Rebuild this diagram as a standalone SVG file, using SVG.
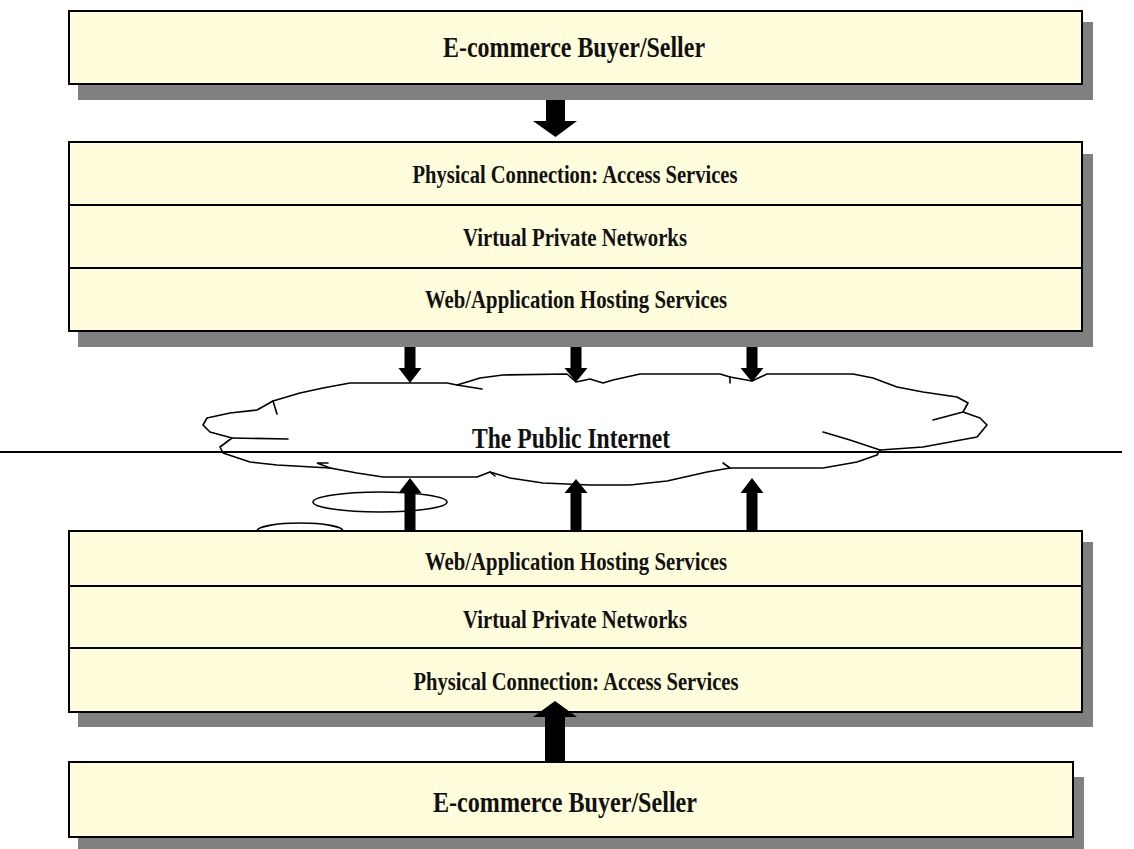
<svg xmlns="http://www.w3.org/2000/svg" width="1134" height="849" viewBox="0 0 1134 849">
<style>
.shadow{fill:#808080;}
.box{fill:#FFFDDC;stroke:#000;stroke-width:2;}
.div{stroke:#000;stroke-width:2;fill:none;}
.lbl{font-family:"Liberation Serif","Times New Roman",serif;font-weight:bold;fill:#111;text-anchor:middle;}
.big{font-size:29px;}
.row{font-size:26px;}
.arrow{fill:#000;}
.cloud{fill:#fff;stroke:#000;stroke-width:1.6;stroke-linejoin:round;stroke-linecap:round;}
.thin{fill:none;stroke:#000;stroke-width:1.6;stroke-linecap:round;}
</style>
<rect width="1134" height="849" fill="#fff"/>

<g id="top-party">
<rect class="shadow" x="78" y="22" width="1015" height="78"/>
<rect class="box" x="69" y="11" width="1013" height="73"/>
<text class="lbl big" x="574" y="57" textLength="262" lengthAdjust="spacingAndGlyphs">E-commerce Buyer/Seller</text>
</g>

<g id="top-services">
<rect class="shadow" x="78" y="154" width="1015" height="193"/>
<rect class="box" x="69" y="142" width="1013" height="189"/>
<line class="div" x1="69" y1="205" x2="1082" y2="205"/>
<line class="div" x1="69" y1="268" x2="1082" y2="268"/>
<text class="lbl row" x="575" y="183" textLength="325" lengthAdjust="spacingAndGlyphs">Physical Connection: Access Services</text>
<text class="lbl row" x="575" y="246" textLength="224" lengthAdjust="spacingAndGlyphs">Virtual Private Networks</text>
<text class="lbl row" x="576" y="308" textLength="302" lengthAdjust="spacingAndGlyphs">Web/Application Hosting Services</text>
</g>

<g id="internet">
<path class="cloud" d="M230,413 L257,410 L273,401 L300,393 L323,388 L350,383 L447,383 L457,385 L467,382 L480,378 L503,375 L567,374 L576,382 L590,379 L603,383 L613,380 L640,374 L720,374 L730,377 L752,381 L767,374 L853,374 L873,378 L897,387 L923,392 L957,397 L968,403 L963,412 L980,418 L987,425 L977,437 L923,447 L880,450 L877,455 L857,462 L823,468 L730,468 L707,472 L667,481 L630,485 L590,485 L543,483 L510,478 L490,472 L477,477 L383,477 L357,473 L330,468 L277,465 L250,462 L223,453 L220,447 L232,438 L210,432 L203,425 L207,418 Z"/>
<path class="thin" d="M457,385 L482,389"/>
<path class="thin" d="M730,377 L730,383"/>
<path class="thin" d="M963,412 L933,420"/>
<path class="thin" d="M880,450 L850,440 L823,432"/>
<path class="thin" d="M730,468 L723,463"/>
<path class="thin" d="M330,468 L317,463 L328,463"/>
<path class="thin" d="M232,438 L288,439"/>
<path class="thin" d="M273,401 L277,414"/>
<path class="thin" d="M490,472 L495,476"/>
<text class="lbl" x="571" y="448" font-size="30" textLength="198" lengthAdjust="spacingAndGlyphs">The Public Internet</text>
</g>

<line x1="0" y1="452" x2="1122" y2="452" stroke="#000" stroke-width="2"/>

<g id="ellipses">
<ellipse class="thin" cx="380" cy="502" rx="67" ry="10"/>
<path class="thin" d="M257,531 A43,8 0 0 1 343,531"/>
</g>

<g id="bottom-services">
<rect class="shadow" x="78" y="542" width="1015" height="185"/>
<rect class="box" x="69" y="531" width="1013" height="181"/>
<line class="div" x1="69" y1="586" x2="1082" y2="586"/>
<line class="div" x1="69" y1="648" x2="1082" y2="648"/>
<text class="lbl row" x="576" y="570" textLength="302" lengthAdjust="spacingAndGlyphs">Web/Application Hosting Services</text>
<text class="lbl row" x="575" y="628" textLength="224" lengthAdjust="spacingAndGlyphs">Virtual Private Networks</text>
<text class="lbl row" x="576" y="690" textLength="325" lengthAdjust="spacingAndGlyphs">Physical Connection: Access Services</text>
</g>

<g id="bottom-party">
<rect class="shadow" x="78" y="777" width="1006" height="72"/>
<rect class="box" x="69" y="762" width="1004" height="75"/>
<text class="lbl big" x="565" y="812" textLength="264" lengthAdjust="spacingAndGlyphs">E-commerce Buyer/Seller</text>
</g>

<g id="connectors">
<polygon class="arrow" points="546,100 565,100 565,121 577,121 555.5,137 533,121 546,121"/>
<polygon class="arrow" points="404.5,347 415.5,347 415.5,368 421.5,368 410,383 398.5,368 404.5,368"/>
<polygon class="arrow" points="570.5,347 581.5,347 581.5,368 587.5,368 576,382 564.5,368 570.5,368"/>
<polygon class="arrow" points="746.5,347 757.5,347 757.5,368 763.5,368 752,382 740.5,368 746.5,368"/>
<polygon class="arrow" points="404.5,531 415.5,531 415.5,493 421.5,493 410,478 398.5,493 404.5,493"/>
<polygon class="arrow" points="570.5,531 581.5,531 581.5,493 587.5,493 576,479 564.5,493 570.5,493"/>
<polygon class="arrow" points="746.5,531 757.5,531 757.5,493 763.5,493 752,478 740.5,493 746.5,493"/>
<polygon class="arrow" points="545,762 565,762 565,717 577,717 555,701 533,717 545,717"/>
</g>
</svg>
